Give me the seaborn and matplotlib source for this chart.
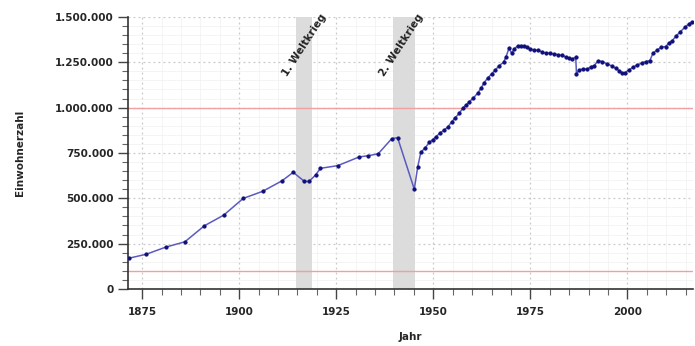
import matplotlib
matplotlib.use("Agg")
import matplotlib.pyplot as plt
import matplotlib.ticker as mticker
import seaborn as sns
import pandas as pd

jahr = [1871.7, 1876.0, 1881.0, 1886.0, 1891.0, 1896.0, 1901.0, 1906.0, 1911.0, 1913.9,
        1916.8, 1918.0, 1919.7, 1920.9, 1925.4, 1930.9, 1933.3, 1935.8, 1939.3, 1940.8,
        1945.1, 1946.0, 1946.8, 1947.9, 1949.0, 1949.8, 1950.7, 1951.7, 1952.7, 1953.7,
        1954.7, 1955.7, 1956.7, 1957.6, 1958.5, 1959.3, 1960.3, 1961.4, 1962.3, 1963.1,
        1964.0, 1965.0, 1966.0, 1967.0, 1968.1, 1968.7, 1969.5, 1970.2, 1970.8, 1971.7,
        1972.5, 1973.3, 1974.1, 1974.9, 1976.0, 1977.0, 1978.0, 1979.0, 1980.0, 1981.1,
        1982.1, 1983.1, 1984.1, 1984.9, 1985.8, 1986.7, 1986.9, 1987.6, 1988.6, 1989.7,
        1990.6, 1991.4, 1992.5, 1993.6, 1994.8, 1996.0, 1997.0, 1997.9, 1998.7, 1999.4,
        2000.4, 2001.5, 2002.6, 2003.7, 2004.7, 2005.8, 2006.6, 2007.7, 2008.8, 2009.9,
        2010.7, 2011.6, 2012.6, 2013.7, 2014.8, 2015.9, 2016.7]
einwohner_tsd = [170, 191, 230, 260, 348, 407, 499, 538, 596, 643,
                 593, 593, 629, 665, 680, 728, 735, 745, 829, 834,
                 550, 675, 754, 778, 809, 822, 840, 859, 875, 892,
                 920, 945, 969, 997, 1015, 1033, 1052, 1079, 1107, 1138,
                 1162, 1186, 1208, 1232, 1250, 1278, 1327, 1300, 1322, 1340,
                 1342, 1340, 1336, 1324, 1318, 1316, 1308, 1300, 1300, 1296,
                 1292, 1288, 1280, 1272, 1269, 1278, 1186, 1208, 1213, 1212,
                 1226, 1230, 1259, 1254, 1241, 1230, 1217, 1204, 1190, 1193,
                 1208, 1223, 1236, 1245, 1254, 1259, 1300, 1318, 1333, 1337,
                 1356, 1370, 1396, 1419, 1443, 1462, 1474]

kriege = ["1. Weltkrieg", "2. Weltkrieg"]
kriege_von = [1914.6, 1939.7]
kriege_bis = [1918.85, 1945.35]

schwellen = [100000, 1000000]  # Großstadt / Millionenstadt

df = pd.DataFrame({"Jahr": jahr, "Einwohner": [v * 1000 for v in einwohner_tsd]})

sns.set_style("white")
plt.rcParams["font.family"] = ["DejaVu Sans"]

fig = plt.figure(figsize=(6.95, 3.46), dpi=100)
ax = fig.add_axes([0.184, 0.165, 0.813, 0.786])

# Grid
ax.xaxis.set_major_locator(mticker.MultipleLocator(25))
ax.xaxis.set_minor_locator(mticker.MultipleLocator(5))
ax.yaxis.set_major_locator(mticker.MultipleLocator(250000))
ax.yaxis.set_minor_locator(mticker.MultipleLocator(50000))
ax.grid(which="major", color="#c8c8c8", linestyle=(0, (1.5, 2.5)), linewidth=0.9)
ax.grid(which="minor", color="#f2f2f2", linestyle="-", linewidth=0.6)
ax.set_axisbelow(True)

for name, a, b in zip(kriege, kriege_von, kriege_bis):
    ax.axvspan(a, b, color="#dcdcdc", lw=0, zorder=1)

for s in schwellen:
    ax.axhline(s, color="#f0a0a0", lw=1.0, zorder=2)

sns.lineplot(data=df, x="Jahr", y="Einwohner", ax=ax, color="#5a5ac0", lw=1.1,
             marker="o", markersize=2.3, markerfacecolor="#10107a",
             markeredgecolor="#10107a", zorder=3)

# Beschriftung der Kriege
for name, a in zip(kriege, kriege_von):
    ax.text(a - 2.3, 1170000, name, rotation=57, rotation_mode="anchor",
            ha="left", va="baseline", fontsize=7.5, fontweight="bold", color="#222222")

ax.set_xlim(1871.3, 2016.9)
ax.set_ylim(0, 1500000)
ax.yaxis.set_major_formatter(mticker.FuncFormatter(lambda v, p: f"{int(v):,}".replace(",", ".")))

for sp in ["top", "right"]:
    ax.spines[sp].set_visible(False)
for sp in ["left", "bottom"]:
    ax.spines[sp].set_color("#333333")
    ax.spines[sp].set_linewidth(1.2)

ax.tick_params(which="major", direction="out", length=7, width=1, color="#444444",
               labelsize=7.5, left=True, bottom=True)
ax.tick_params(axis="y", which="major", pad=3)
ax.tick_params(axis="x", which="major", pad=6)
ax.tick_params(which="minor", direction="out", length=4, width=0.8, color="#666666",
               left=True, bottom=True)
for lbl in ax.get_xticklabels() + ax.get_yticklabels():
    lbl.set_fontweight("bold")

ax.set_xlabel("Jahr", fontsize=7.5, fontweight="bold")
ax.set_ylabel("Einwohnerzahl", fontsize=7.5, fontweight="bold", labelpad=22)
ax.xaxis.set_label_coords(0.5, -0.16)

fig.savefig("out.png", dpi=100)
